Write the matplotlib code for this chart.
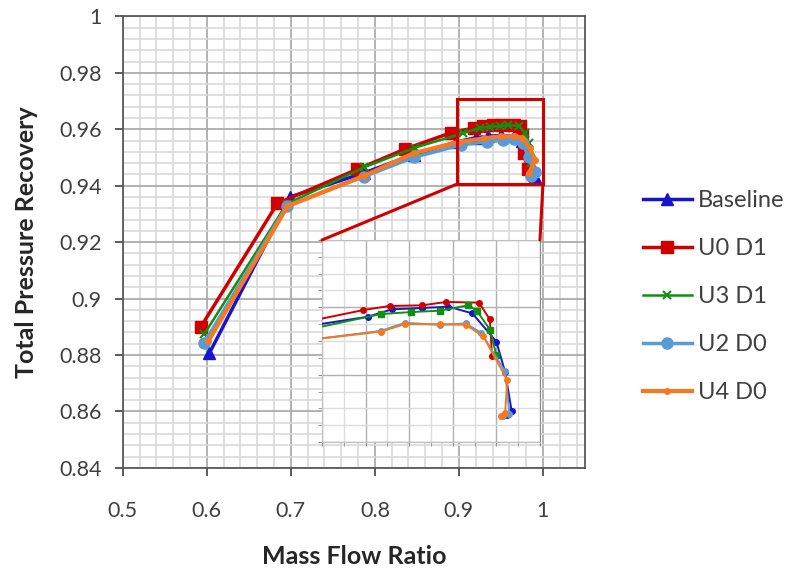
import matplotlib
matplotlib.use('Agg')
import matplotlib.pyplot as plt
from matplotlib.ticker import MultipleLocator
from matplotlib.patches import Rectangle, ConnectionPatch

plt.rcParams['font.family'] = ['Lato', 'DejaVu Sans']

# main chart data
base_x = [0.603, 0.699, 0.787, 0.846, 0.897, 0.920, 0.935, 0.950, 0.965, 0.975, 0.980, 0.985, 0.991]
base_y = [0.8806, 0.9360, 0.9445, 0.9510, 0.9555, 0.9570, 0.9575, 0.9578, 0.9575, 0.9560, 0.9520, 0.9480, 0.9430]

u0d1_x = [0.593, 0.684, 0.779, 0.836, 0.890, 0.918, 0.929, 0.941, 0.953, 0.965, 0.973, 0.975, 0.977, 0.982]
u0d1_y = [0.8900, 0.9337, 0.9458, 0.9530, 0.9587, 0.9605, 0.9612, 0.9614, 0.9614, 0.9614, 0.9612, 0.9580, 0.9516, 0.9460]

u3d1_x = [0.597, 0.695, 0.787, 0.848, 0.905, 0.925, 0.937, 0.949, 0.959, 0.971, 0.979, 0.983, 0.986]
u3d1_y = [0.8874, 0.9335, 0.9465, 0.9535, 0.9586, 0.9605, 0.9608, 0.9612, 0.9614, 0.9612, 0.9586, 0.9550, 0.9480]

u2d0_x = [0.597, 0.695, 0.787, 0.846, 0.902, 0.933, 0.953, 0.966, 0.976, 0.983, 0.990, 0.986]
u2d0_y = [0.8843, 0.9328, 0.9432, 0.9500, 0.9544, 0.9556, 0.9562, 0.9565, 0.9550, 0.9500, 0.9450, 0.9435]

u4d0_x = [0.602, 0.696, 0.787, 0.846, 0.900, 0.930, 0.950, 0.965, 0.975, 0.984, 0.991, 0.983]
u4d0_y = [0.8850, 0.9327, 0.9435, 0.9515, 0.9555, 0.9568, 0.9575, 0.9575, 0.9570, 0.9535, 0.9490, 0.9444]

# inset (zoomed picture) data
in_base_x = [0.895, 0.921, 0.932, 0.946, 0.958, 0.969, 0.980, 0.984, 0.987, 0.985]
in_base_y = [0.9573, 0.9586, 0.9597, 0.9599, 0.9601, 0.9591, 0.9549, 0.9504, 0.9446, 0.9440]
in_u0d1_x = [0.895, 0.919, 0.931, 0.946, 0.957, 0.972, 0.977, 0.978]
in_u0d1_y = [0.9580, 0.9596, 0.9602, 0.9603, 0.9608, 0.9607, 0.9582, 0.9527]
in_u3d1_x = [0.895, 0.927, 0.941, 0.954, 0.967, 0.971, 0.977, 0.980]
in_u3d1_y = [0.9568, 0.9590, 0.9593, 0.9595, 0.9603, 0.9595, 0.9567, 0.9529]
in_u2d0_x = [0.895, 0.927, 0.938, 0.954, 0.966, 0.973, 0.984, 0.986, 0.983]
in_u2d0_y = [0.9552, 0.9565, 0.9577, 0.9574, 0.9576, 0.9562, 0.9505, 0.9442, 0.9439]
in_u4d0_x = [0.895, 0.927, 0.938, 0.954, 0.966, 0.974, 0.985, 0.984, 0.982]
in_u4d0_y = [0.9552, 0.9564, 0.9575, 0.9575, 0.9574, 0.9557, 0.9492, 0.9443, 0.9439]

labels = ['Baseline', 'U0 D1', 'U3 D1', 'U2 D0', 'U4 D0']
colors = ['#1414d2', '#d00000', '#109010', '#5b9bd5', '#f7781f']
markers = ['^', 's', 'x', 'o', 'o']
msizes = [8, 8, 6, 8, 4]
lwidths = [2.5, 2.5, 1.8, 2.5, 3.0]

fig = plt.figure(figsize=(7.92, 5.71), dpi=100)
ax = fig.add_axes([0.155, 0.1807, 0.5836, 0.7906])

series = [(base_x, base_y), (u0d1_x, u0d1_y), (u3d1_x, u3d1_y), (u2d0_x, u2d0_y), (u4d0_x, u4d0_y)]
for (xs, ys), lab, c, m, ms, lw in zip(series, labels, colors, markers, msizes, lwidths):
    ax.plot(xs, ys, color=c, marker=m, markersize=ms, lw=lw, label=lab,
            markeredgewidth=1.5 if m == 'x' else 1.0, zorder=3)

ax.set_xlim(0.5, 1.05)
ax.set_ylim(0.84, 1.0)
ax.xaxis.set_major_locator(MultipleLocator(0.1))
ax.xaxis.set_minor_locator(MultipleLocator(0.02))
ax.yaxis.set_major_locator(MultipleLocator(0.02))
ax.yaxis.set_minor_locator(MultipleLocator(0.004))
ax.set_xticks([0.5, 0.6, 0.7, 0.8, 0.9, 1.0])
ax.set_xticklabels(['0.5', '0.6', '0.7', '0.8', '0.9', '1'])
ax.set_yticks([0.84, 0.86, 0.88, 0.9, 0.92, 0.94, 0.96, 0.98, 1.0])
ax.set_yticklabels(['0.84', '0.86', '0.88', '0.9', '0.92', '0.94', '0.96', '0.98', '1'])
ax.grid(which='major', color='#a6a6a6', lw=1.2, zorder=0)
ax.grid(which='minor', color='#d9d9d9', lw=1.2, zorder=0)
ax.set_axisbelow(True)
ax.tick_params(which='major', direction='out', length=6, width=1.2, color='#404040',
               labelsize=15.5, labelcolor='#404040')
ax.tick_params(axis='x', pad=18)
ax.tick_params(axis='y', pad=9)
ax.tick_params(which='minor', length=0)
for sp in ax.spines.values():
    sp.set_color('#595959')
    sp.set_linewidth(1.3)
ax.set_xlabel('Mass Flow Ratio', fontsize=18, fontweight='bold', color='#262626', labelpad=17)
ax.set_ylabel('Total Pressure Recovery', fontsize=18, fontweight='bold', color='#262626', labelpad=15.5)

# zoom box
ax.add_patch(Rectangle((0.898, 0.9406), 0.102, 0.030, fill=False, ec='#d00000', lw=2.2, zorder=5))

# inset picture
ins = fig.add_axes([0.4066, 0.2259, 0.2752, 0.3538])
ins.set_facecolor('white')
inset_series = [(in_base_x, in_base_y), (in_u0d1_x, in_u0d1_y), (in_u3d1_x, in_u3d1_y),
                (in_u2d0_x, in_u2d0_y), (in_u4d0_x, in_u4d0_y)]
in_markers = ['o', 'o', 's', 'o', 'o']
for (xs, ys), c, m in zip(inset_series, colors, in_markers):
    ins.plot(xs, ys, color=c, marker=m, markersize=4, lw=1.4, zorder=3)
ins.set_xlim(0.9, 1.0)
ins.set_ylim(0.94, 0.97)
ins.xaxis.set_major_locator(MultipleLocator(0.02))
ins.xaxis.set_minor_locator(MultipleLocator(0.01))
ins.yaxis.set_major_locator(MultipleLocator(0.01))
ins.yaxis.set_minor_locator(MultipleLocator(0.0025))
ins.grid(which='major', color='#b0b0b0', lw=1.0)
ins.grid(which='minor', color='#dcdcdc', lw=1.0)
ins.set_axisbelow(True)
ins.tick_params(which='both', direction='out', length=3, color='#909090',
                labelleft=False, labelbottom=False)
for sp in ins.spines.values():
    sp.set_color('#bfbfbf')
ins.spines['right'].set_color('#8c8c8c')

# connectors from box to inset
for xa, xb in [(0.898, 0.0), (1.0, 1.0)]:
    con = ConnectionPatch(xyA=(xa, 0.9406), coordsA=ax.transData,
                          xyB=(xb, 1.0), coordsB=ins.transAxes,
                          color='#d00000', lw=2.2, zorder=6)
    fig.add_artist(con)

fig.legend(loc='upper left', bbox_to_anchor=(0.812, 0.6664), frameon=False,
           fontsize=17, handlelength=2.05, handletextpad=0.28, labelspacing=1.14,
           borderpad=0, borderaxespad=0, labelcolor='#404040')

fig.savefig('out.png', dpi=100)
